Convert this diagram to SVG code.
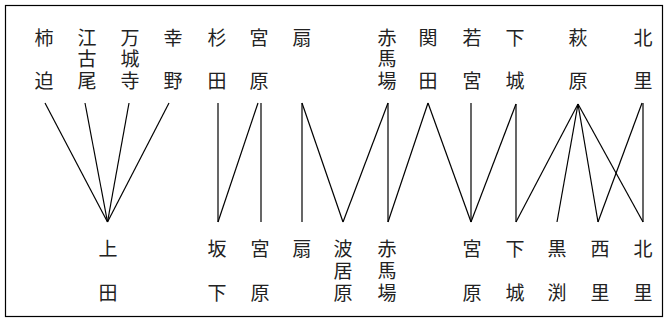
<svg xmlns="http://www.w3.org/2000/svg" width="666" height="320" viewBox="0 0 666 320">
<style>
text{font-family:"Noto Sans CJK JP","Noto Sans CJK SC",sans-serif;font-size:19px;fill:#222;text-anchor:middle;dominant-baseline:central}
.c line{stroke:#000;stroke-width:1.2;fill:none}
</style>
<rect x="5.5" y="5.5" width="657" height="311" fill="#fff" stroke="#000" stroke-width="1.2"/>
<g id="top-kakisako"><text x="44" y="36">柿</text><text x="44" y="79">迫</text></g>
<g id="top-egoo"><text x="87" y="36">江</text><text x="87" y="57.5">古</text><text x="87" y="79">尾</text></g>
<g id="top-manjoji"><text x="130" y="36">万</text><text x="130" y="57.5">城</text><text x="130" y="79">寺</text></g>
<g id="top-kono"><text x="173" y="36">幸</text><text x="173" y="79">野</text></g>
<g id="top-sugita"><text x="217" y="36">杉</text><text x="217" y="79">田</text></g>
<g id="top-miyahara"><text x="259" y="36">宮</text><text x="259" y="79">原</text></g>
<g id="top-ogi"><text x="302" y="36">扇</text></g>
<g id="top-akabaaba"><text x="387" y="36">赤</text><text x="387" y="57.5">馬</text><text x="387" y="79">場</text></g>
<g id="top-sekita"><text x="428" y="36">関</text><text x="428" y="79">田</text></g>
<g id="top-wakamiya"><text x="472" y="36">若</text><text x="472" y="79">宮</text></g>
<g id="top-shimojo"><text x="515" y="36">下</text><text x="515" y="79">城</text></g>
<g id="top-hagihara"><text x="578" y="36">萩</text><text x="578" y="79">原</text></g>
<g id="top-kitazato"><text x="643" y="36">北</text><text x="643" y="79">里</text></g>

<g id="bot-ueda"><text x="108" y="247.5">上</text><text x="108" y="291.5">田</text></g>
<g id="bot-sakashita"><text x="217" y="247.5">坂</text><text x="217" y="291.5">下</text></g>
<g id="bot-miyahara"><text x="260" y="247.5">宮</text><text x="260" y="291.5">原</text></g>
<g id="bot-ogi"><text x="302" y="247.5">扇</text></g>
<g id="bot-haibara"><text x="343" y="247.5">波</text><text x="343" y="269.5">居</text><text x="343" y="291.5">原</text></g>
<g id="bot-akabaaba"><text x="387" y="247.5">赤</text><text x="387" y="269.5">馬</text><text x="387" y="291.5">場</text></g>
<g id="bot-miyahara2"><text x="472" y="247.5">宮</text><text x="472" y="291.5">原</text></g>
<g id="bot-shimojo"><text x="515" y="247.5">下</text><text x="515" y="291.5">城</text></g>
<g id="bot-kurobuchi"><text x="557" y="247.5">黒</text><text x="557" y="291.5">渕</text></g>
<g id="bot-nishizato"><text x="600" y="247.5">西</text><text x="600" y="291.5">里</text></g>
<g id="bot-kitazato"><text x="643" y="247.5">北</text><text x="643" y="291.5">里</text></g>

<g id="connectors" class="c">
<line x1="45" y1="103" x2="107.5" y2="222"/>
<line x1="85" y1="103" x2="107.5" y2="222"/>
<line x1="129" y1="103" x2="107.5" y2="222"/>
<line x1="169" y1="103" x2="107.5" y2="222"/>
<line x1="218" y1="103" x2="218" y2="222"/>
<line x1="258" y1="103" x2="218" y2="222"/>
<line x1="261" y1="103" x2="261" y2="222"/>
<line x1="302" y1="103" x2="302" y2="222"/>
<line x1="302" y1="103" x2="343" y2="222"/>
<line x1="388" y1="103" x2="343" y2="222"/>
<line x1="388" y1="103" x2="388" y2="222"/>
<line x1="428" y1="103" x2="388" y2="222"/>
<line x1="428" y1="103" x2="471" y2="222"/>
<line x1="471" y1="103" x2="471" y2="222"/>
<line x1="516" y1="104" x2="471" y2="222"/>
<line x1="516" y1="104" x2="516" y2="222"/>
<line x1="578" y1="104" x2="516" y2="222"/>
<line x1="578" y1="104" x2="557" y2="222"/>
<line x1="578" y1="104" x2="598" y2="222"/>
<line x1="578" y1="104" x2="643" y2="222"/>
<line x1="642" y1="103" x2="598" y2="222"/>
<line x1="643" y1="103" x2="643" y2="222"/>
</g>
</svg>
